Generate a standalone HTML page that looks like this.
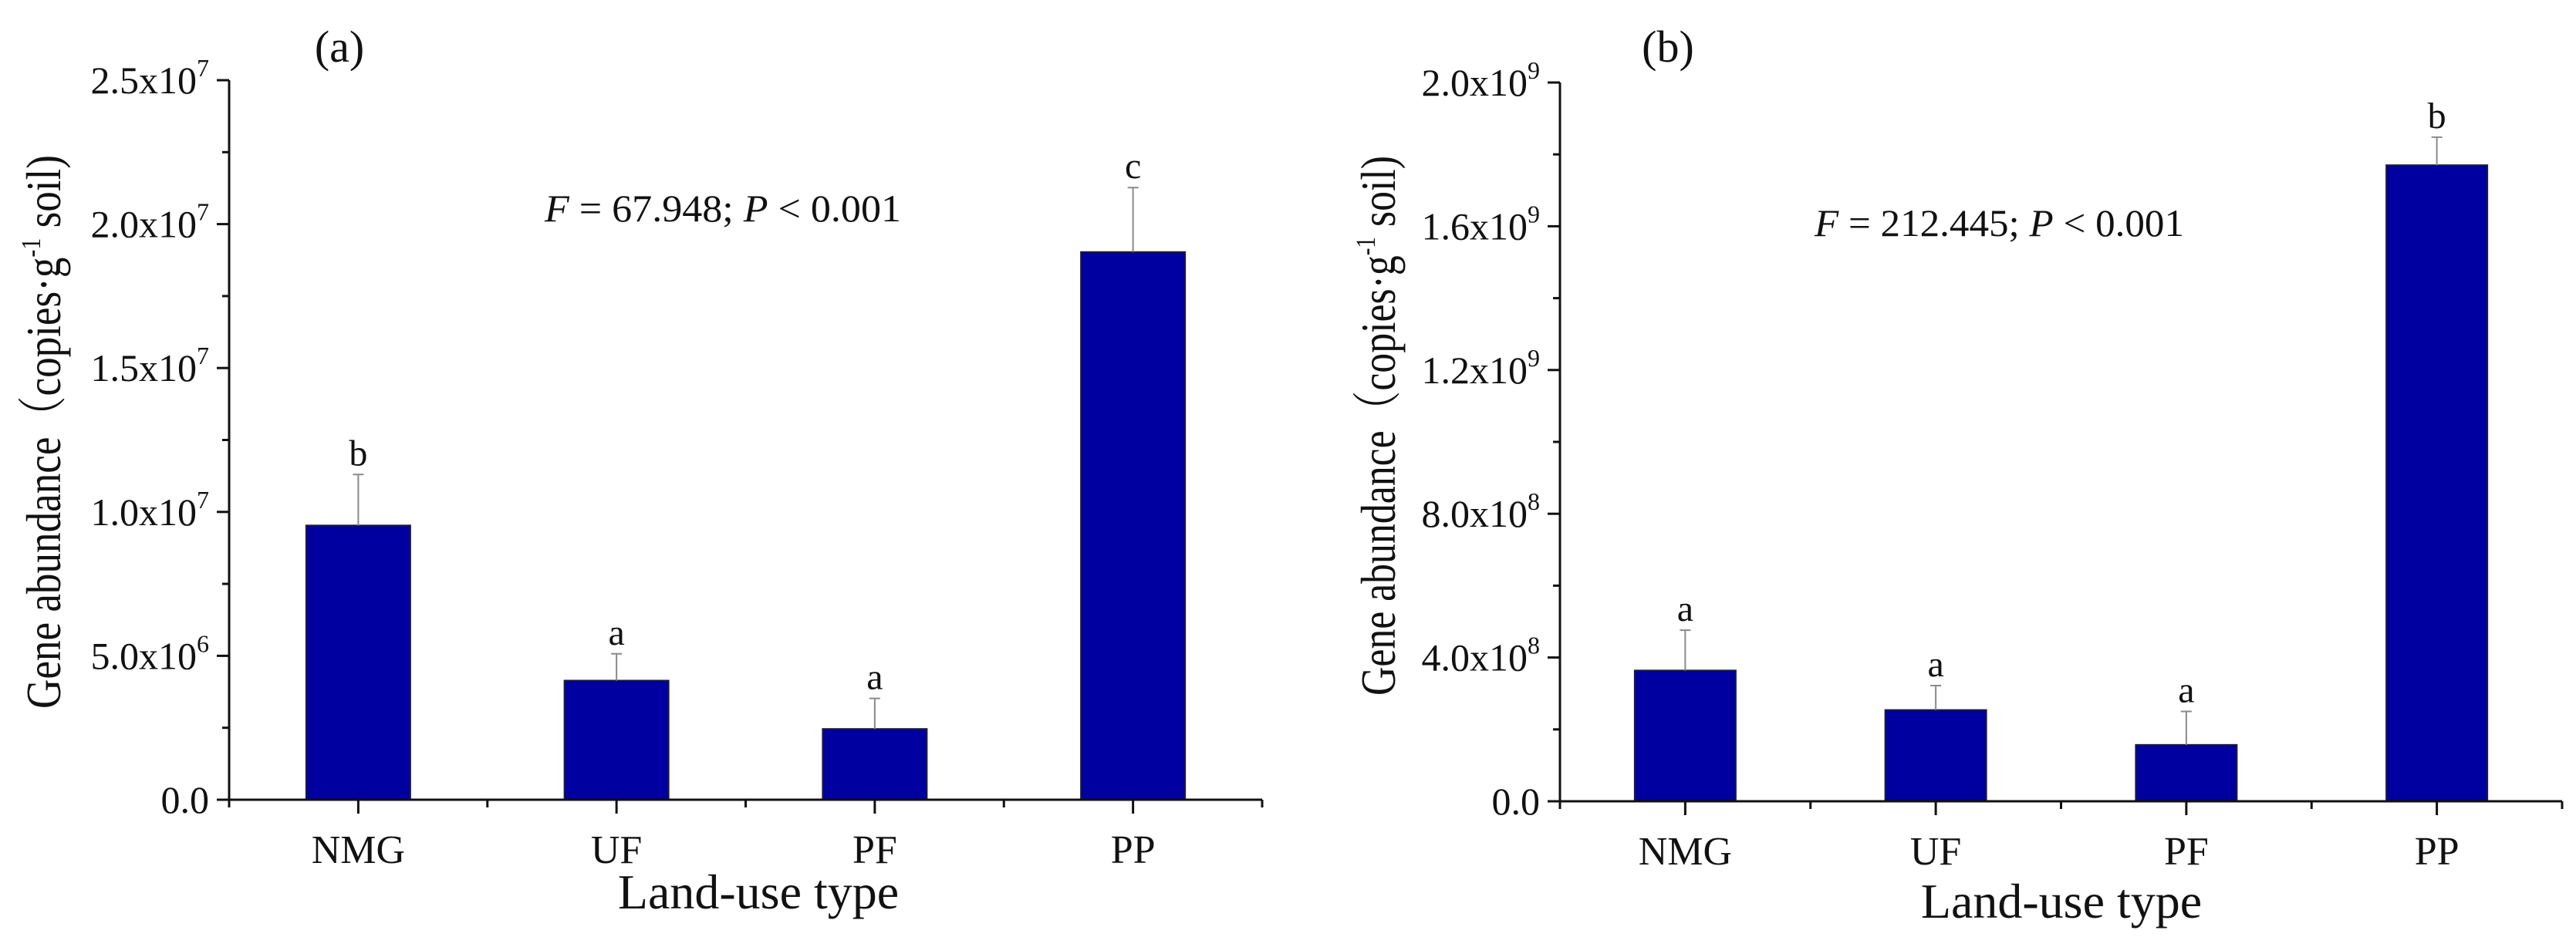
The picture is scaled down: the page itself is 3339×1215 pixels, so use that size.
<!DOCTYPE html>
<html><head><meta charset="utf-8"><style>
html,body{margin:0;padding:0;background:#fff;}
svg{display:block;font-family:"Liberation Serif","Noto Serif CJK SC",serif;}
</style></head><body>
<svg id="chart" width="3339" height="1215" viewBox="0 0 3339 1215" xmlns="http://www.w3.org/2000/svg"></svg>
<script>
const categories = ["NMG","UF","PF","PP"];
const valuesA = [9.53e6, 4.14e6, 2.46e6, 1.903e7];
const errorsA = [1.13e7, 5.07e6, 3.52e6, 2.127e7];
const lettersA = ["b","a","a","c"];
const ticksA = [0, 5e6, 1e7, 1.5e7, 2e7, 2.5e7];
const tickLabelsA = [["0.0",""],["5.0x10","6"],["1.0x10","7"],["1.5x10","7"],["2.0x10","7"],["2.5x10","7"]];
const valuesB = [3.64e8, 2.54e8, 1.57e8, 1.77e9];
const errorsB = [4.76e8, 3.22e8, 2.50e8, 1.848e9];
const lettersB = ["a","a","a","b"];
const ticksB = [0, 4e8, 8e8, 1.2e9, 1.6e9, 2.0e9];
const tickLabelsB = [["0.0",""],["4.0x10","8"],["8.0x10","8"],["1.2x10","9"],["1.6x10","9"],["2.0x10","9"]];

const NS = "http://www.w3.org/2000/svg";
const svg = document.getElementById("chart");
function mk(tag, attrs, parent){
  const e = document.createElementNS(NS, tag);
  for (const k in attrs) e.setAttribute(k, attrs[k]);
  (parent||svg).appendChild(e);
  return e;
}
function panel(cfg){
  const g = mk("g", {});
  
  
  const x0 = cfg.x0, x1 = cfg.x1, y0 = cfg.y0, yTop = cfg.yTop, max = cfg.max;
  const band = (x1 - x0) / categories.length;
  const yS = v => y0 - (v / max) * (y0 - yTop);
  const xC = i => x0 + band * (i + 0.5);
  categories.forEach((c, i) => {
    const bw = cfg.barW;
    const r = mk("rect", {x: xC(i) - bw/2, y: yS(cfg.vals[i]), width: bw, height: y0 - yS(cfg.vals[i]), fill: "#0000a0", stroke: "#1a1a40", "stroke-width": 2}, g);
    
    
    const eb = mk("path", {d: `M${xC(i)},${yS(cfg.vals[i])}V${yS(cfg.errs[i])}M${xC(i)-7},${yS(cfg.errs[i])}H${xC(i)+7}`, stroke: "#8a8a8a", "stroke-width": 2, fill: "none"}, g);
    
    
    const lt = mk("text", {x: xC(i), y: yS(cfg.errs[i]) - 12, "font-size": 48, "text-anchor": "middle", fill: "#111"}, g);
    lt.textContent = cfg.letters[i];
    
    
    const xt = mk("path", {d: `M${xC(i)},${y0}V${y0+18}`, stroke: "#111", "stroke-width": 3}, g);
    
    
    const xl = mk("text", {x: xC(i), y: y0 + 82, "font-size": 52, "text-anchor": "middle", fill: "#111"}, g);
    xl.textContent = c;
    
    
  });
  for (let i = 0; i <= categories.length; i++){
    const mt = mk("path", {d: `M${x0 + band*i},${y0}V${y0+10}`, stroke: "#111", "stroke-width": 3}, g);
    
    
  }
  const ax = mk("path", {d: `M${x0},${yTop}V${y0}H${x1}`, stroke: "#111", "stroke-width": 3, fill: "none"}, g);
  
  
  cfg.ticks.forEach((t, i) => {
    const y = yS(t);
    const tk = mk("path", {d: `M${x0-16},${y}H${x0}`, stroke: "#111", "stroke-width": 3}, g);
    
    
    if (i < cfg.ticks.length - 1){
      const ym = yS((t + cfg.ticks[i+1]) / 2);
      const mt = mk("path", {d: `M${x0-9},${ym}H${x0}`, stroke: "#111", "stroke-width": 3}, g);
      
      
    }
    const tl = mk("text", {x: x0 - 26, y: y + 17, "font-size": 50, "text-anchor": "end", fill: "#111"}, g);
    
    
    const lab = cfg.labels[i];
    if (lab[1]) {
      tl.appendChild(document.createTextNode(lab[0]));
      const sp = mk("tspan", {"font-size": 32, dy: -22}, tl);
      sp.textContent = lab[1];
    } else tl.textContent = lab[0];
  });
  const yl = mk("text", {x: 0, y: 0, "font-size": 64, "text-anchor": "middle", fill: "#111", textLength: cfg.ylLen, lengthAdjust: "spacingAndGlyphs", transform: `translate(${cfg.ylx},${cfg.yly}) rotate(-90)`}, g);
  
  
  yl.appendChild(document.createTextNode("Gene abundance（copies·g"));
  const s1 = mk("tspan", {"font-size": 36, dy: -26}, yl); s1.textContent = "-1";
  const s2 = mk("tspan", {dy: 26}, yl); s2.textContent = " soil)";
  const xt = mk("text", {x: cfg.xtx, y: cfg.xty, "font-size": 64, "text-anchor": "middle", fill: "#111"}, g);
  xt.textContent = "Land-use type";
  
  
  const pl = mk("text", {x: cfg.plx, y: 80, "font-size": 58, "text-anchor": "middle", fill: "#111"}, g);
  pl.textContent = cfg.panelLabel;
  
  
  const st = mk("text", {x: cfg.fx, y: cfg.fy, "font-size": 50, fill: "#111", textLength: cfg.fLen, lengthAdjust: "spacingAndGlyphs"}, g);
  
  
  const f1 = mk("tspan", {"font-style": "italic"}, st); f1.textContent = "F";
  st.appendChild(document.createTextNode(" = " + cfg.fval + ";  "));
  const p1 = mk("tspan", {"font-style": "italic"}, st); p1.textContent = "P";
  st.appendChild(document.createTextNode(" < 0.001"));
}
panel({name:"panel-a", x0:297, x1:1636, y0:1037, yTop:104, max:2.5e7, barW:135,
  vals:valuesA, errs:errorsA, letters:lettersA, ticks:ticksA, labels:tickLabelsA,
  ylx:78, yly:560, ylLen:718, xtx:983, xty:1178, plx:440, panelLabel:"(a)", fx:706, fy:287, fval:"67.948", fLen:462});
panel({name:"panel-b", x0:2022, x1:3321, y0:1039, yTop:107, max:2.0e9, barW:131,
  vals:valuesB, errs:errorsB, letters:lettersB, ticks:ticksB, labels:tickLabelsB,
  ylx:1808, yly:552, ylLen:700, xtx:2672, xty:1190, plx:2162, panelLabel:"(b)", fx:2352, fy:306, fval:"212.445", fLen:479});
</script>
</body></html>
